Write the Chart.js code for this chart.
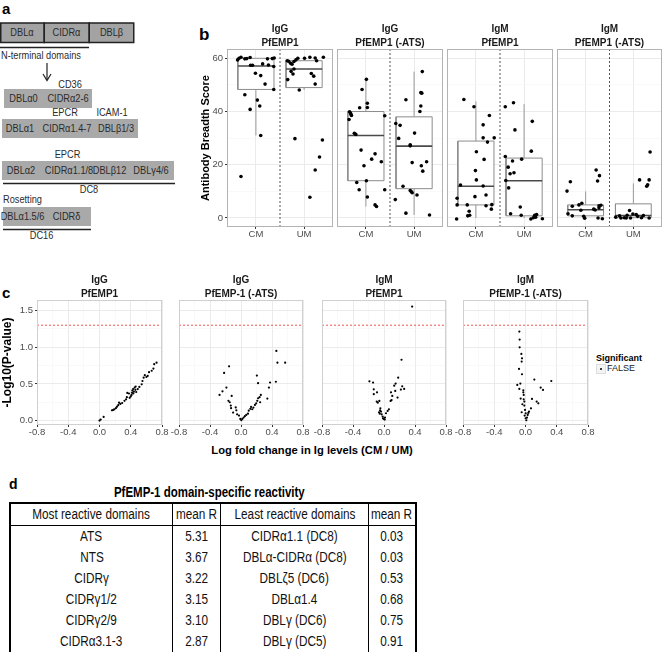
<!DOCTYPE html>
<html>
<head>
<meta charset="utf-8">
<script src="https://cdn.jsdelivr.net/npm/chart.js@4.4.1/dist/chart.umd.min.js"></script>
<style>
  body { margin: 0; background: #fff; font-family: "Liberation Sans", Arial, sans-serif; }
  #page { position: relative; width: 664px; height: 652px; overflow: hidden; background: #fff; }
  #page canvas { position: absolute; }
  .txt { position: absolute; white-space: nowrap; color: #000; }
  /* squeezed text, to look like the narrow face of the original */
  .sq  { transform-box: fill-box; transform-origin: center; transform: scaleX(0.84); }
  .sql { transform-box: fill-box; transform-origin: left center; transform: scaleX(0.84); }
  #tbl { position: absolute; left: 9px; top: 502px; width: 401px; table-layout: fixed; border-collapse: collapse;
         border: 2px solid #000; font-size: 14px; color: #111; }
  #tbl td { padding: 0; height: 21px; line-height: 21px; border-left: 1.5px solid #000; white-space: nowrap; }
  #tbl td div { display: flex; justify-content: center; }
  #tbl td span { display: inline-block; transform: scaleX(0.84); }
  #tbl tr.hd td { border-bottom: 1.5px solid #000; }
  #legend-key { position: absolute; left: 596px; top: 364px; width: 8px; height: 8px; border: 1px solid #ddd; background: #f4f4f4; }
  #legend-key i { position: absolute; left: 3px; top: 3px; width: 2px; height: 2px; border-radius: 1px; background: #000; }
</style>
</head>
<body>
<div id="page">
  <svg width="200" height="245" style="position:absolute;left:0;top:0" font-family="Liberation Sans" font-size="11" fill="#2b2b2b">
    <text x="2" y="14" font-weight="bold" font-size="15" fill="#000">a</text>
    <rect x="0.75" y="23" width="43.5" height="19.5" fill="#a3a3a3" stroke="#222" stroke-width="1.5"/>
    <rect x="44.25" y="23" width="45" height="19.5" fill="#a3a3a3" stroke="#222" stroke-width="1.5"/>
    <rect x="89.25" y="23" width="44.5" height="19.5" fill="#a3a3a3" stroke="#222" stroke-width="1.5"/>
    <text class="sq" x="22" y="36.5" text-anchor="middle">DBLα</text>
    <text class="sq" x="66.5" y="36.5" text-anchor="middle">CIDRα</text>
    <text class="sq" x="111.5" y="36.5" text-anchor="middle">DBLβ</text>
    <line x1="0" y1="47.5" x2="89" y2="47.5" stroke="#222" stroke-width="1.5"/>
    <text class="sql" x="1" y="59.5">N-terminal domains</text>
    <line x1="47" y1="63" x2="47" y2="80" stroke="#222" stroke-width="1.2"/>
    <polyline points="43,74 47,80.5 51,74" fill="none" stroke="#222" stroke-width="1.2"/>
    <text class="sq" x="70" y="88" text-anchor="middle">CD36</text>
    <rect x="4" y="89" width="88" height="19" fill="#a9a9a9"/>
    <text class="sq" x="23.5" y="102.5" text-anchor="middle">DBLα0</text>
    <text class="sq" x="68" y="102.5" text-anchor="middle">CIDRα2-6</text>
    <text class="sq" x="65" y="116.5" text-anchor="middle">EPCR</text>
    <text class="sq" x="112" y="116.5" text-anchor="middle">ICAM-1</text>
    <rect x="2" y="119" width="136" height="19" fill="#a9a9a9"/>
    <text class="sq" x="20" y="132.5" text-anchor="middle">DBLα1</text>
    <text class="sq" x="67" y="132.5" text-anchor="middle">CIDRα1.4-7</text>
    <text class="sq" x="116" y="132.5" text-anchor="middle">DBLβ1/3</text>
    <text class="sq" x="67.5" y="158.5" text-anchor="middle">EPCR</text>
    <rect x="2" y="161" width="172" height="19" fill="#a9a9a9"/>
    <text class="sq" x="21" y="174.5" text-anchor="middle">DBLα2</text>
    <text class="sq" x="69" y="174.5" text-anchor="middle">CIDRα1.1/8</text>
    <text class="sq" x="109.5" y="174.5" text-anchor="middle">DBLβ12</text>
    <text class="sq" x="151" y="174.5" text-anchor="middle">DBLγ4/6</text>
    <line x1="3" y1="183.5" x2="175" y2="183.5" stroke="#222" stroke-width="1.5"/>
    <text class="sq" x="89" y="193.5" text-anchor="middle">DC8</text>
    <text class="sql" x="3" y="203.5">Rosetting</text>
    <rect x="3" y="207" width="88" height="19" fill="#a9a9a9"/>
    <text class="sq" x="22.5" y="220.5" text-anchor="middle">DBLα1.5/6</text>
    <text class="sq" x="66.5" y="220.5" text-anchor="middle">CIDRδ</text>
    <line x1="3" y1="229.5" x2="91" y2="229.5" stroke="#222" stroke-width="1.5"/>
    <text class="sq" x="41.5" y="239.5" text-anchor="middle">DC16</text>
  </svg>

  <div class="txt" style="left:199px;top:25px;font-size:17px;font-weight:bold;">b</div>
  <div class="txt" style="left:2px;top:284px;font-size:15px;font-weight:bold;">c</div>
  <div class="txt" style="left:112px;top:443px;width:400px;text-align:center;font-size:11.2px;line-height:14px;font-weight:bold;">Log fold change in Ig levels (CM / UM)</div>
  <div class="txt" style="left:596px;top:352px;font-size:9px;line-height:12px;font-weight:bold;">Significant</div>
  <div id="legend-key"><i></i></div>
  <div class="txt" style="left:607px;top:362px;font-size:9px;line-height:12px;color:#222;">FALSE</div>

  <div class="txt" style="left:9px;top:476px;font-size:14px;line-height:17px;font-weight:bold;">d</div>
  <div class="txt" style="left:9px;top:484px;width:401px;display:flex;justify-content:center;font-size:14px;line-height:17px;font-weight:bold;">
    <span style="display:inline-block;transform:scaleX(0.82);">PfEMP-1 domain-specific reactivity</span></div>
  <table id="tbl"></table>
</div>

<script>
// ---- panel b: antibody breadth ----
const groups = ['CM', 'UM'];
const bTitles = [['IgG', 'PfEMP1'], ['IgG', 'PfEMP1 (-ATS)'], ['IgM', 'PfEMP1'], ['IgM', 'PfEMP1 (-ATS)']];
const bYTicks = [0, 10, 20, 30, 40, 50, 60];
// box stats, [CM, UM] for each panel
const bLow  = [[31, 48.1], [4.3, 1.1], [0, 0], [0, 0]];
const bQ1   = [[48.3, 49], [14, 11], [4.9, 0.8], [0.8, 0.1]];
const bMed  = [[57.1, 56], [31, 27], [11.9, 14], [3.1, 0.9]];
const bQ3   = [[60, 59.1], [40, 38], [28.9, 22.5], [4.9, 5.3]];
const bHigh = [[60, 60.4], [52, 55], [43.8, 42.8], [10, 13]];
// jittered points: score and horizontal jitter (category units)
const bScore = [
  [[59.4,60,60.4,59.8,59.9,60.3,57.4,57.4,54.4,53.5,57.9,59.8,57.5,59.9,60.1,56.9,50.3,48.3,46.3,44.3,42.1,40.8,31,15.6],
   [59.1,58.9,58.1,57.8,58.8,59.4,60,56,55.1,54.1,52,60,60.4,60.1,60.4,59.1,54.3,53.3,50.3,48.1,29.8,29.3,22.9,18,7.8]],
  [[52.1,48.3,43.1,41.5,41.4,39.9,39.4,39,38.5,37,38.4,31.8,31.4,25.5,24.1,22.1,21.1,19.6,13.3,14,10.6,10.6,7.9,4.9,4.3],
   [55,44.4,47.1,46.9,42.1,40,35.5,34.8,31.9,29.9,27.5,27.1,21.1,20.8,19.6,17.6,11.9,10.3,9.9,9.5,8.6,6.9,1.8,1.1]],
  [[44.5,41.8,38.5,35,30.1,30.1,28.5,24.9,22,17.8,14.3,12.4,12,7.4,8,8.6,4.9,4.9,4.6,5,3.3,2.5,0.8,1,-0.4],
   [41.8,43.3,33.1,36.3,25.1,23.1,22.1,21.4,19.1,16.6,17,14.1,11.3,4.1,1.6,1,1,1.3,0.1,0.3,-0.4,-0.3]],
  [[18,15.9,13.9,13.6,10.1,5.5,4.9,4.4,3.3,3,2.9,4.6,4.8,3.8,1.6,0.8,0.6,-0.1,0,-0.3],
   [24.8,14.3,14.3,12.5,11.9,2.8,1.5,1.3,1,0.3,0.8,0.1,0,0,0.1,0.9,0.6,0,0]]
];
const bJitter = [
  [[-0.38,-0.35,-0.31,-0.23,-0.19,-0.12,-0.11,-0.07,-0.01,0.10,0.14,0.24,0.26,0.34,0.38,0.37,0.19,0.37,-0.23,0.03,0.08,-0.12,0.10,-0.31],
   [-0.35,-0.32,-0.28,-0.25,-0.21,-0.17,-0.13,-0.21,-0.27,-0.23,-0.34,0.01,0.12,0.23,0.40,0.26,0.15,0.20,0.23,-0.10,-0.19,0.38,0.32,0.23,0.12]],
  [[0.01,-0.08,0.03,0.03,-0.13,-0.34,-0.32,-0.31,-0.30,-0.35,0.39,-0.24,-0.21,-0.10,0.19,0.12,0.32,-0.04,-0.19,0.01,-0.14,0.39,0.03,0.19,0.22],
   [0.17,-0.17,0.14,0.16,0.14,0.12,-0.38,-0.29,0.01,-0.32,-0.08,-0.08,0.26,-0.04,0.15,0.18,-0.23,-0.08,-0.06,-0.04,0.06,-0.39,-0.17,0.32]],
  [[-0.25,-0.04,0.28,0.15,0.15,0.38,0.24,0.01,0.17,-0.01,0.01,-0.32,0.15,-0.39,-0.02,0.21,-0.39,-0.18,0.21,0.33,0.32,-0.14,-0.17,-0.13,-0.40],
   [-0.39,-0.22,-0.19,0.17,0.15,-0.39,-0.05,-0.24,-0.33,-0.29,-0.21,-0.38,-0.32,-0.08,-0.28,-0.06,0.22,0.26,0.19,0.24,0.14,0.38]],
  [[0.22,0.29,0.25,-0.32,-0.39,-0.08,-0.14,-0.28,0.17,0.20,-0.10,0.28,0.32,0.28,-0.37,-0.28,-0.04,-0.02,0.26,0.35],
   [0.35,0.13,0.33,0.30,0.28,-0.08,-0.01,0.06,-0.13,-0.37,-0.29,-0.19,-0.15,-0.06,0.17,0.21,0.09,0.33,-0.26]]
];

// ---- panel c: volcano plots ----
const cTitles = [['IgG', 'PfEMP1'], ['IgG', 'PfEMP-1 (-ATS)'], ['IgM', 'PfEMP1'], ['IgM', 'PfEMP-1 (-ATS)']];
const cXTicks = [-0.8, -0.6, -0.4, -0.2, 0, 0.2, 0.4, 0.6, 0.8];
const cYTicks = [0, 0.25, 0.5, 0.75, 1, 1.25, 1.5];
const cThreshold = 1.301;
const cFold = [
  [0.00,0.015,0.053,0.16,0.177,0.19,0.21,0.224,0.24,0.25,0.267,0.29,0.32,0.34,0.35,0.356,0.377,0.386,0.40,0.41,0.416,0.42,0.43,0.433,0.44,0.45,0.46,0.463,0.47,0.49,0.51,0.54,0.55,0.565,0.58,0.60,0.617,0.634,0.668,0.69,0.70,0.73],
  [-0.277,-0.239,-0.218,-0.188,-0.154,-0.162,-0.145,-0.132,-0.12,-0.128,-0.102,-0.068,-0.06,-0.05,-0.026,-0.009,0.004,0.017,0.034,0.05,0.068,0.09,0.10,0.12,0.13,0.145,0.16,0.18,0.196,0.21,0.22,0.24,0.256,0.247,0.205,0.22,0.34,0.36,0.375,0.45,0.456,0.47,0.57],
  [0.363,0.226,0.183,-0.188,-0.141,-0.132,-0.09,-0.132,-0.094,-0.08,-0.06,-0.051,-0.038,-0.055,-0.03,-0.017,-0.004,0.009,-0.013,0.026,0.047,0.064,0.085,0.09,0.107,0.132,0.145,0.15,0.175,0.218,0.235,0.26,0.098,-0.047,-0.064,0.013],
  [-0.079,-0.075,-0.075,-0.053,-0.045,-0.049,-0.083,-0.045,-0.105,-0.066,-0.079,-0.028,-0.028,-0.023,-0.062,-0.023,-0.015,-0.04,-0.015,-0.049,-0.006,0.002,-0.011,0.002,0.011,0.028,0.045,0.07,0.083,0.143,0.164,0.113,0.194,0.224,0.33,0.019,0.036]
];
const cLogP = [
  [0.00,0.014,0.05,0.14,0.145,0.155,0.17,0.19,0.21,0.245,0.227,0.24,0.27,0.29,0.32,0.377,0.37,0.31,0.33,0.35,0.38,0.41,0.43,0.37,0.395,0.45,0.42,0.465,0.39,0.43,0.46,0.495,0.54,0.585,0.62,0.595,0.61,0.66,0.68,0.71,0.77,0.79],
  [0.35,0.40,0.65,0.45,0.74,0.27,0.25,0.205,0.336,0.17,0.11,0.18,0.14,0.086,0.068,0.023,0.005,0.023,0.041,0.06,0.077,0.095,0.136,0.16,0.186,0.155,0.177,0.214,0.236,0.27,0.305,0.32,0.35,0.25,0.614,0.51,0.30,0.45,0.52,0.53,0.95,0.79,0.79],
  [1.555,0.83,0.586,0.536,0.518,0.427,0.386,0.36,0.26,0.245,0.268,0.14,0.123,0.095,0.086,0.055,0.023,0.014,0.032,0.10,0.132,0.155,0.268,0.386,0.336,0.477,0.405,0.505,0.314,0.423,0.468,0.432,0.28,0.168,0.114,0.041],
  [1.214,1.105,1.0,0.91,0.85,0.805,0.705,0.632,0.486,0.505,0.432,0.414,0.386,0.35,0.30,0.29,0.26,0.223,0.205,0.114,0.145,0.10,0.068,0.032,0.005,0.077,0.123,0.168,0.295,0.26,0.236,0.56,0.45,0.418,0.54,0.041,0.105]
];

// ---- panel d: table ----
const mostDomains  = ['ATS', 'NTS', 'CIDRγ', 'CIDRγ1/2', 'CIDRγ2/9', 'CIDRα3.1-3'];
const mostR        = ['5.31', '3.67', '3.22', '3.15', '3.10', '2.87'];
const leastDomains = ['CIDRα1.1 (DC8)', 'DBLα-CIDRα (DC8)', 'DBLζ5 (DC6)', 'DBLα1.4', 'DBLγ (DC6)', 'DBLγ (DC5)'];
const leastR       = ['0.03', '0.03', '0.53', '0.68', '0.75', '0.91'];

Chart.defaults.font.family = '"Liberation Sans", Arial, sans-serif';
Chart.defaults.color = '#4d4d4d';

const page = document.getElementById('page');

// panel outline drawn on top of everything
const frame = {
  id: 'frame',
  afterDraw(chart, args, opts) {
    const a = chart.chartArea, ctx = chart.ctx;
    ctx.save();
    ctx.strokeStyle = opts.color;
    ctx.lineWidth = 1;
    ctx.strokeRect(a.left + 0.5, a.top + 0.5, a.right - a.left - 1, a.bottom - a.top - 1);
    ctx.restore();
  }
};

function line(points, color, width, dash, order, fill) {
  return { data: points, showLine: true, borderColor: color, borderWidth: width, borderDash: dash || [],
           pointRadius: 0, fill: fill ? 'shape' : false, backgroundColor: '#fff', order: order };
}

// area = [left, right, top, bottom] of the plotting panel, in page pixels
function facet(area, yw, xh, title, datasets, xs, ys, yTitle, frameColor) {
  const padL = 12, padR = 12, titleH = 27;
  const left = area[0] - yw - padL, top = area[2] - titleH;
  const c = document.createElement('canvas');
  c.width = area[1] + padR - left;
  c.height = area[3] + xh - top;
  c.style.left = left + 'px';
  c.style.top = top + 'px';
  page.appendChild(c);

  const tickOpts = (list, major, fmt) => ({
    afterBuildTicks: s => { s.ticks = list.map(v => ({ value: v })); },
    grid: {
      color: ctx => major(ctx.tick.value) ? '#ebebeb' : '#f5f5f5',
      lineWidth: ctx => major(ctx.tick.value) ? 1 : 0.6,
      tickColor: ctx => major(ctx.tick.value) ? '#333' : 'rgba(0,0,0,0)',
      tickLength: 2
    },
    border: { display: false },
    ticks: { autoSkip: false, maxRotation: 0, padding: 0, font: { size: 9.5 }, color: '#4d4d4d',
             callback: v => major(v) ? fmt(v) : '' }
  });

  const x = Object.assign({ type: 'linear', min: xs.min, max: xs.max,
    afterFit: s => { s.height = xh; } }, tickOpts(xs.ticks, xs.major, xs.fmt));
  const y = Object.assign({ type: 'linear', min: ys.min, max: ys.max,
    afterFit: s => { s.width = yw; } }, tickOpts(ys.ticks, ys.major, ys.fmt));
  y.ticks.padding = 2;
  if (yw === 0) {
    y.ticks.display = false;
    y.grid.drawTicks = false;
  }
  if (yTitle) {
    y.title = { display: true, text: yTitle.text, color: '#000', padding: 0,
                font: { size: yTitle.size, weight: 'bold', lineHeight: 1.2 } };
  }

  new Chart(c, {
    type: 'scatter',
    data: { datasets: datasets },
    options: {
      responsive: false, animation: false, events: [],
      layout: { padding: { left: padL, right: padR, top: 0, bottom: 0 } },
      scales: { x: x, y: y },
      plugins: {
        legend: { display: false }, tooltip: { enabled: false },
        title: { display: true, text: title, fullSize: false, color: '#1a1a1a',
                 padding: { top: 0, bottom: -1 }, font: { size: 10, weight: 'bold', lineHeight: 1.4 } },
        frame: { color: frameColor }
      }
    },
    plugins: [frame]
  });
}

// panel b facets
const bAreas = [[227, 333], [337, 443], [447, 553], [557, 662]];
const bY = { min: -3.4, max: 63.5, ticks: bYTicks, major: v => v % 20 === 0, fmt: v => String(v) };
const bX = { min: 0.4, max: 2.6, ticks: [1, 2], major: () => true, fmt: v => groups[v - 1] };
bAreas.forEach((ar, k) => {
  const ds = [];
  groups.forEach((g, gi) => {
    const cx = gi + 1, hw = 0.375;
    ds.push({ data: bScore[k][gi].map((v, i) => ({ x: cx + bJitter[k][gi][i], y: v })),
              pointRadius: 1.8, pointBackgroundColor: '#000', pointBorderWidth: 0, order: 0 });
    ds.push(line([{ x: cx - hw, y: bMed[k][gi] }, { x: cx + hw, y: bMed[k][gi] }], '#4a4a4a', 1.6, null, 1));
    ds.push(line([{ x: cx - hw, y: bQ1[k][gi] }, { x: cx + hw, y: bQ1[k][gi] }, { x: cx + hw, y: bQ3[k][gi] },
                  { x: cx - hw, y: bQ3[k][gi] }, { x: cx - hw, y: bQ1[k][gi] }], '#8c8c8c', 1, null, 2, true));
    ds.push(line([{ x: cx, y: bQ3[k][gi] }, { x: cx, y: bHigh[k][gi] }], '#9a9a9a', 1, null, 3));
    ds.push(line([{ x: cx, y: bLow[k][gi] }, { x: cx, y: bQ1[k][gi] }], '#9a9a9a', 1, null, 3));
  });
  ds.push(line([{ x: 1.5, y: bY.min }, { x: 1.5, y: bY.max }], '#555', 1, [2, 2], 4));
  facet([ar[0], ar[1], 49, 227], k === 0 ? 28 : 0, 16, bTitles[k], ds, bX, bY,
        k === 0 ? { text: 'Antibody Breadth Score', size: 11 } : null, '#b3b3b3');
});

// panel c facets
const cAreas = [[37, 162], [179, 303], [322, 446], [463, 588]];
const cY = { min: -0.06, max: 1.645, ticks: cYTicks, major: v => Math.round(v * 100) % 50 === 0, fmt: v => v.toFixed(1) };
const cX = { min: -0.8, max: 0.8, ticks: cXTicks, major: v => Math.round(Math.abs(v) * 10) % 4 === 0, fmt: v => v.toFixed(1) };
cAreas.forEach((ar, k) => {
  const ds = [
    { data: cFold[k].map((v, i) => ({ x: v, y: cLogP[k][i] })), pointRadius: 1.1,
      pointBackgroundColor: '#000', pointBorderWidth: 0, order: 0 },
    line([{ x: cX.min, y: cThreshold }, { x: cX.max, y: cThreshold }], '#f0554f', 1, [2, 2], 1)
  ];
  facet([ar[0], ar[1], 300, 425], k === 0 ? 37 : 0, 16, cTitles[k], ds, cX, cY,
        k === 0 ? { text: '-Log10(P-value)', size: 12 } : null, '#d0d0d0');
});

// panel d table
const tbl = document.getElementById('tbl');
const widths = [161, 47, 147, 46];
function row(cells, cls) {
  const tr = document.createElement('tr');
  if (cls) tr.className = cls;
  cells.forEach((t, i) => {
    const td = document.createElement('td');
    const box = document.createElement('div');
    const sp = document.createElement('span');
    sp.textContent = t;
    box.appendChild(sp);
    td.appendChild(box);
    td.style.width = widths[i] + 'px';
    tr.appendChild(td);
  });
  tbl.appendChild(tr);
}
row(['Most reactive domains', 'mean R', 'Least reactive domains', 'mean R'], 'hd');
mostDomains.forEach((d, i) => row([d, mostR[i], leastDomains[i], leastR[i]]));
</script>
</body>
</html>
